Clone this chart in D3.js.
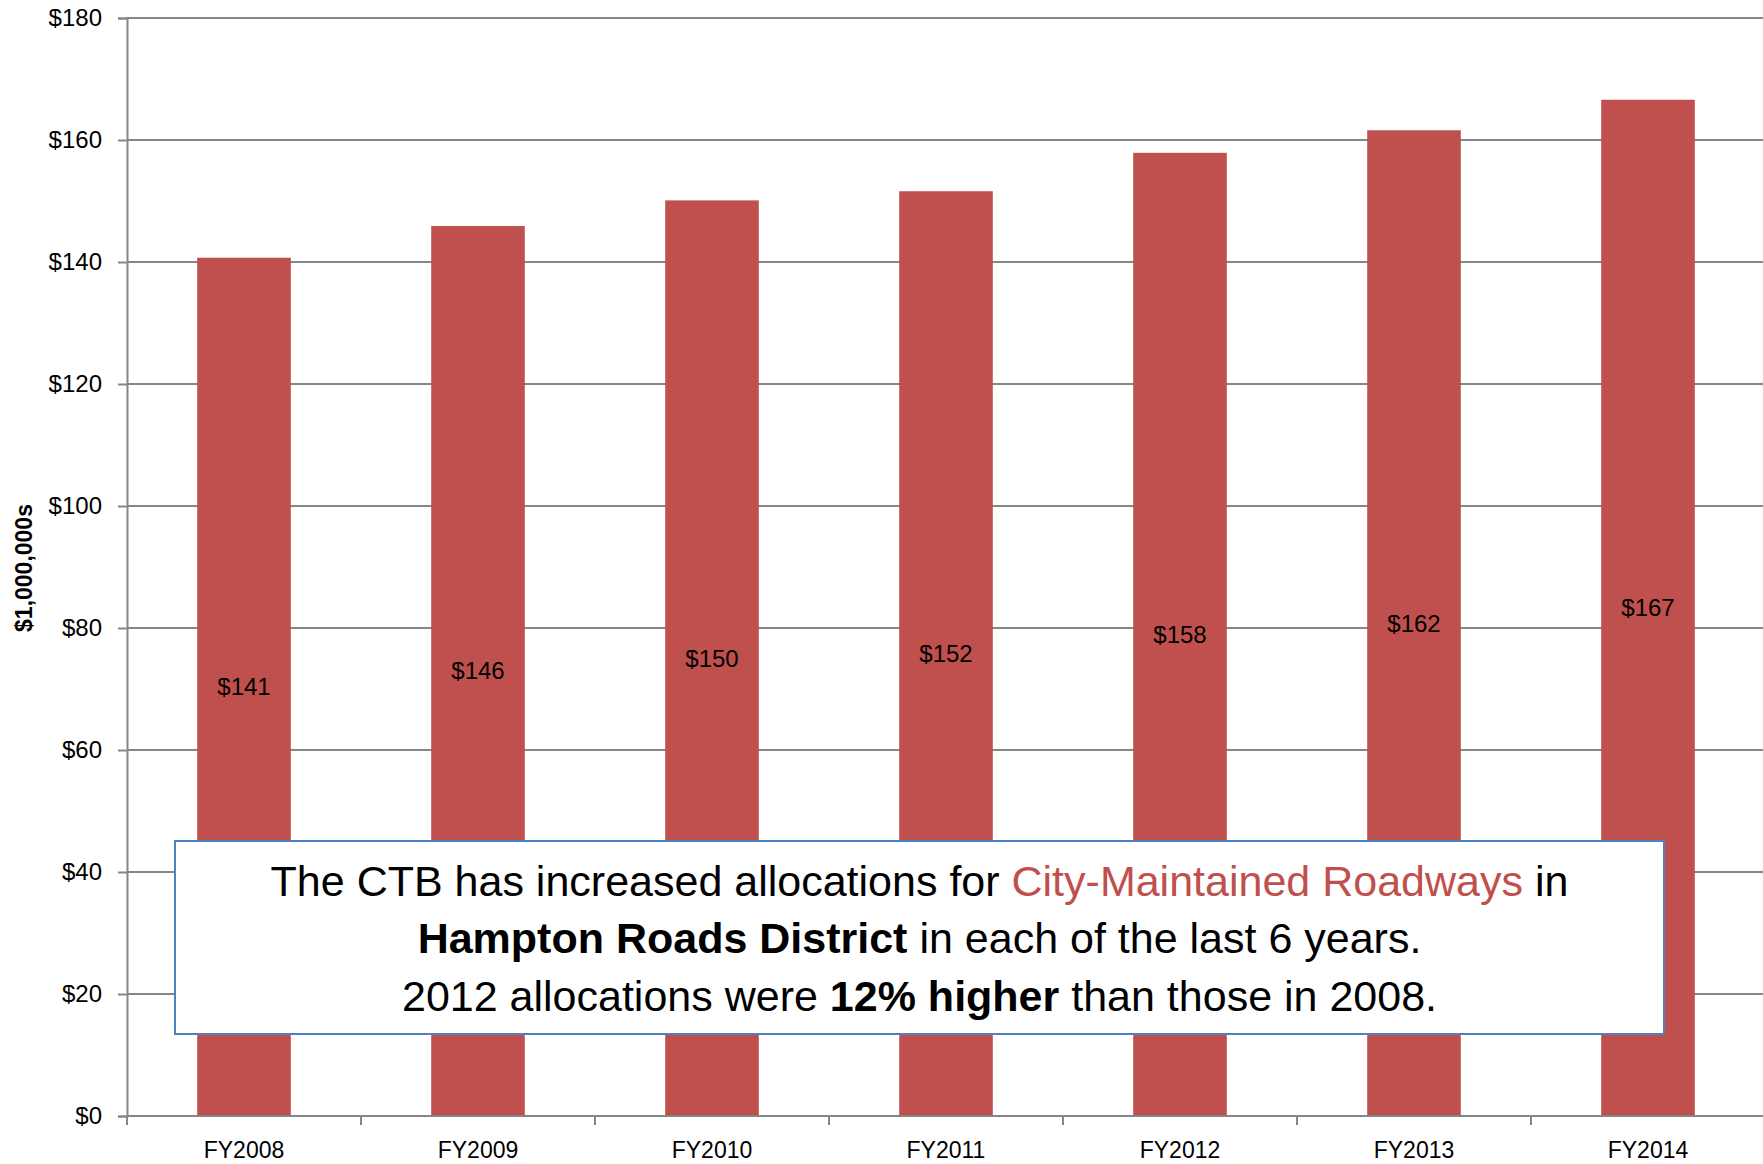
<!DOCTYPE html>
<html>
<head>
<meta charset="utf-8">
<script src="https://cdn.jsdelivr.net/npm/d3@7"></script>
<style>
  body { margin: 0; background: #fff; }
  svg { display: block; font-family: "Liberation Sans", Arial, sans-serif; }
</style>
</head>
<body>
<div id="chart"></div>
<script>
// data
var years = ["FY2008", "FY2009", "FY2010", "FY2011", "FY2012", "FY2013", "FY2014"];
var allocations = [140.7, 145.9, 150.1, 151.6, 157.9, 161.6, 166.6];
var yTicks = [0, 20, 40, 60, 80, 100, 120, 140, 160, 180];

var W = 1763, H = 1164;
var margin = {top: 18, left: 127, bottom: 48};

var svg = d3.select("#chart")
  .append("svg")
  .attr("width", W)
  .attr("height", H);

// x: bands, plot runs off the right edge like the original
var x = d3.scaleBand()
  .domain(years)
  .range([margin.left, margin.left + 234 * years.length])
  .paddingInner(0.6)
  .paddingOuter(0.3);

var y = d3.scaleLinear()
  .domain([0, 180])
  .range([H - margin.bottom, margin.top]);

// gridlines
svg.append("g")
  .selectAll("line")
  .data(yTicks)
  .enter()
  .append("line")
  .attr("x1", margin.left)
  .attr("x2", W)
  .attr("y1", d => y(d))
  .attr("y2", d => y(d))
  .attr("stroke", "#868686")
  .attr("stroke-width", 2);

// y axis
var yAxis = svg.append("g")
  .attr("transform", "translate(" + margin.left + ",0)")
  .call(d3.axisLeft(y).tickValues(yTicks).tickSize(9).tickPadding(16)
    .tickFormat(d => "$" + d));
yAxis.selectAll("line").attr("stroke", "#868686").attr("stroke-width", 2);
yAxis.select(".domain").attr("stroke", "#868686").attr("stroke-width", 2);
yAxis.selectAll("text")
  .style("font-size", "24px")
  .style("font-family", "Liberation Sans, Arial, sans-serif")
  .attr("fill", "#000");

// y title
svg.append("text")
  .attr("transform", "translate(32," + 568 + ") rotate(-90)")
  .attr("text-anchor", "middle")
  .style("font-size", "23px")
  .style("font-weight", "bold")
  .text("$1,000,000s");

// bars
svg.append("g")
  .selectAll("rect")
  .data(allocations)
  .enter()
  .append("rect")
  .attr("x", (d, i) => x(years[i]))
  .attr("width", x.bandwidth())
  .attr("y", d => y(d))
  .attr("height", d => y(0) - y(d))
  .attr("fill", "#C0504D");

// data labels in the middle of each bar
svg.append("g")
  .selectAll("text")
  .data(allocations)
  .enter()
  .append("text")
  .attr("x", (d, i) => x(years[i]) + x.bandwidth() / 2)
  .attr("y", d => (y(d) + y(0)) / 2)
  .attr("dy", "0.35em")
  .attr("text-anchor", "middle")
  .style("font-size", "24px")
  .text(d => "$" + Math.round(d));

// x axis line + ticks at band edges
var x0 = margin.left, step = x.step();
svg.append("line")
  .attr("x1", x0).attr("x2", W)
  .attr("y1", y(0)).attr("y2", y(0))
  .attr("stroke", "#868686").attr("stroke-width", 2);
svg.append("g")
  .selectAll("line")
  .data(d3.range(years.length + 1))
  .enter()
  .append("line")
  .attr("x1", i => x(years[0]) - x.paddingOuter() * step + i * step)
  .attr("x2", i => x(years[0]) - x.paddingOuter() * step + i * step)
  .attr("y1", y(0))
  .attr("y2", y(0) + 9)
  .attr("stroke", "#868686").attr("stroke-width", 2);

svg.append("g")
  .selectAll("text")
  .data(years)
  .enter()
  .append("text")
  .attr("x", d => x(d) + x.bandwidth() / 2)
  .attr("y", y(0) + 42)
  .attr("text-anchor", "middle")
  .style("font-size", "23px")
  .text(d => d);

// callout box
var box = {x: 175, y: 841, w: 1489, h: 193};
svg.append("rect")
  .attr("x", box.x).attr("y", box.y)
  .attr("width", box.w).attr("height", box.h)
  .attr("fill", "#fff")
  .attr("stroke", "#4F81BD")
  .attr("stroke-width", 2);

var lines = [
  [["The CTB has increased allocations for ", "normal", "#000"],
   ["City-Maintained Roadways", "normal", "#C0504D"],
   [" in", "normal", "#000"]],
  [["Hampton Roads District", "bold", "#000"],
   [" in each of the last 6 years.", "normal", "#000"]],
  [["2012 allocations were ", "normal", "#000"],
   ["12% higher", "bold", "#000"],
   [" than those in 2008.", "normal", "#000"]]
];
var baselines = [896, 953, 1011];
var cx = box.x + box.w / 2;

var texts = lines.map(function(parts, i) {
  var t = svg.append("text")
    .attr("x", cx)
    .attr("y", baselines[i])
    .attr("text-anchor", "middle")
    .style("font-size", "40px");
  parts.forEach(function(p) {
    t.append("tspan")
      .attr("font-weight", p[1])
      .attr("fill", p[2])
      .text(p[0]);
  });
  return t;
});

// fit first line to width seen in the original (~1298px)
var w1 = texts[0].node().getComputedTextLength();
var fs = 40 * 1298 / w1;
texts.forEach(t => t.style("font-size", fs + "px"));
</script>
</body>
</html>
